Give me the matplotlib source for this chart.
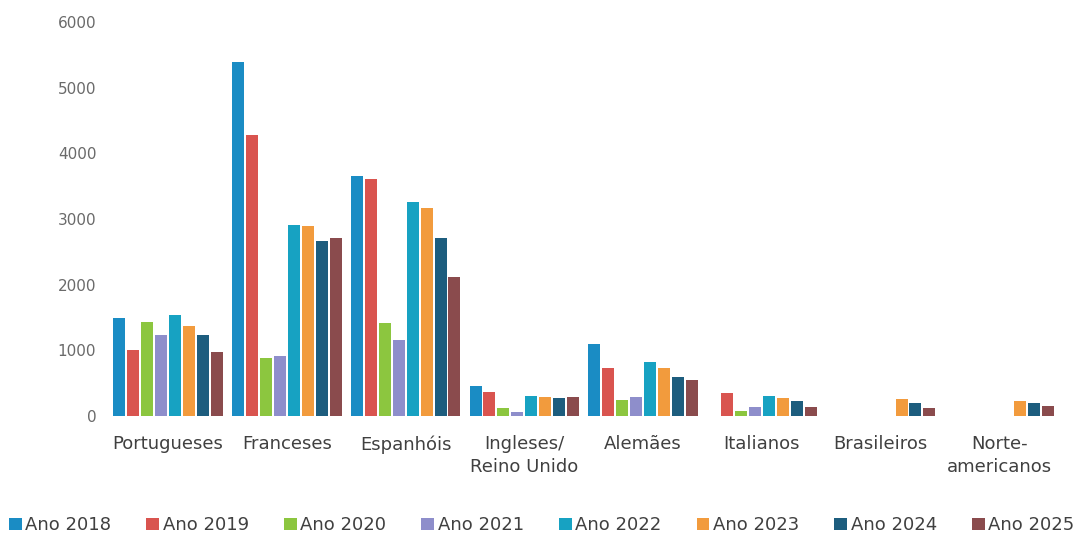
import numpy as np
import matplotlib.pyplot as plt

categories = ["Portugueses", "Franceses", "Espanhóis", "Ingleses/\nReino Unido",
              "Alemães", "Italianos", "Brasileiros", "Norte-\namericanos"]
years = ["Ano 2018", "Ano 2019", "Ano 2020", "Ano 2021",
         "Ano 2022", "Ano 2023", "Ano 2024", "Ano 2025"]

ano_2018 = [1490, 5390, 3650, 457, 1100, 0, 0, 0]
ano_2019 = [1000, 4280, 3610, 370, 725, 355, 0, 0]
ano_2020 = [1430, 880, 1420, 127, 245, 80, 0, 0]
ano_2021 = [1230, 910, 1160, 65, 295, 130, 0, 0]
ano_2022 = [1540, 2910, 3260, 310, 830, 305, 0, 0]
ano_2023 = [1370, 2890, 3170, 295, 725, 270, 255, 235]
ano_2024 = [1230, 2660, 2710, 280, 600, 235, 195, 195]
ano_2025 = [970, 2710, 2120, 295, 550, 140, 115, 160]

series = [ano_2018, ano_2019, ano_2020, ano_2021, ano_2022, ano_2023, ano_2024, ano_2025]
colors = ["#1a8cc4", "#d9544f", "#8cc63f", "#8e8ecb",
          "#17a2c2", "#f29b3d", "#1d5d7e", "#8a4b4d"]

fig = plt.figure(figsize=(10.77, 5.35), dpi=100)
ax = fig.add_axes([0.101, 0.2224, 0.882, 0.7365])

x = np.arange(len(categories))
slot = 0.94 / len(series)
for i, (vals, c) in enumerate(zip(series, colors)):
    ax.bar(x - 0.47 + slot * (i + 0.5), vals, width=slot * 0.86, color=c,
           label=years[i])

ax.set_xlim(-0.5, len(categories) - 0.5)
ax.set_ylim(0, 6000)
ax.set_yticks(range(0, 6001, 1000))
for s in ax.spines.values():
    s.set_visible(False)
ax.tick_params(length=0)
ax.tick_params(axis="y", labelsize=11, labelcolor="#6a6a6a", pad=9)
ax.set_xticks(x)
ax.set_xticklabels(categories, fontsize=13, color="#404040", linespacing=1.3)
ax.tick_params(axis="x", pad=14)

fig.legend(loc="center", bbox_to_anchor=(0.503, 0.018), ncol=8, frameon=False,
           fontsize=13, handlelength=0.7, handleheight=0.7, handletextpad=0.2,
           columnspacing=1.95, labelcolor="#404040")

fig.savefig("out.png", dpi=100)
